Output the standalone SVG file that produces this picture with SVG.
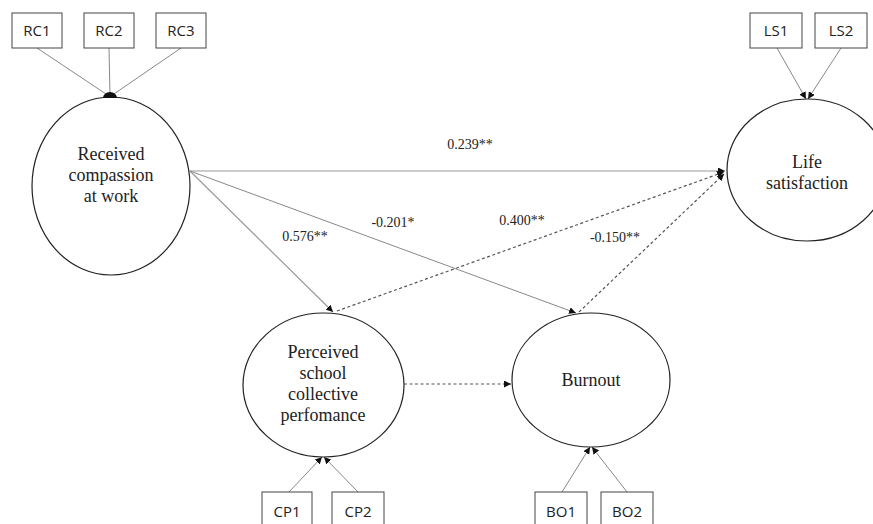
<svg xmlns="http://www.w3.org/2000/svg" width="873" height="524" viewBox="0 0 873 524">
<style>
.box{fill:#fff;stroke:#444;stroke-width:1}
.lat{fill:#fff;stroke:#222;stroke-width:1.2}
.ind{font-family:"Open Sans","Noto Sans",sans-serif;font-size:15px;fill:#222;text-anchor:middle}
.lbl{font-family:"Liberation Serif","Times New Roman",serif;font-size:18px;fill:#222;text-anchor:middle}
.coef{font-family:"Liberation Serif","Times New Roman",serif;font-size:14px;fill:#222;text-anchor:middle}
.ld{stroke:#888;stroke-width:1;fill:none}
.sol{stroke:#999;stroke-width:1.2;fill:none}
.dash{stroke:#555;stroke-width:1.2;fill:none;stroke-dasharray:3,2.5}
</style>
<defs>
<marker id="ah" viewBox="0 0 10 10" refX="10" refY="5" markerWidth="7" markerHeight="7" orient="auto" markerUnits="userSpaceOnUse">
<path d="M0,0 L10,5 L0,10 z" fill="#111"/>
</marker>
</defs>
<g id="connectors">
<line class="ld" x1="37" y1="48" x2="109" y2="96"/>
<line class="ld" x1="109" y1="48" x2="110" y2="96"/>
<line class="ld" x1="181" y1="48" x2="111" y2="96"/>
<line class="ld" x1="777" y1="48" x2="806" y2="99" marker-end="url(#ah)"/>
<line class="ld" x1="841" y1="48" x2="808" y2="99" marker-end="url(#ah)"/>
<line class="ld" x1="289" y1="492" x2="322" y2="457" marker-end="url(#ah)"/>
<line class="ld" x1="358" y1="492" x2="324" y2="457" marker-end="url(#ah)"/>
<line class="ld" x1="562" y1="492" x2="590" y2="447" marker-end="url(#ah)"/>
<line class="ld" x1="627" y1="492" x2="592" y2="447" marker-end="url(#ah)"/>
<line class="sol" x1="190" y1="171" x2="725" y2="171" marker-end="url(#ah)"/>
<line class="sol" x1="190" y1="171" x2="333" y2="312" marker-end="url(#ah)"/>
<line class="ld" x1="190" y1="171" x2="576" y2="313" marker-end="url(#ah)"/>
<line class="dash" x1="337" y1="311" x2="724" y2="172" marker-end="url(#ah)"/>
<line class="dash" x1="579" y1="312" x2="724" y2="174" marker-end="url(#ah)"/>
<line class="dash" x1="404" y1="384" x2="511" y2="384" marker-end="url(#ah)"/>
</g>
<g id="labels">
<text class="coef" x="470" y="149">0.239**</text>
<text class="coef" x="305" y="241">0.576**</text>
<text class="coef" x="393" y="227">-0.201*</text>
<text class="coef" x="522" y="225">0.400**</text>
<text class="coef" x="615" y="242">-0.150**</text>
</g>
<g id="RC1"><rect class="box" x="12" y="13" width="50" height="35"/><text class="ind" x="37" y="36">RC1</text></g>
<g id="RC2"><rect class="box" x="84" y="13" width="50" height="35"/><text class="ind" x="109" y="36">RC2</text></g>
<g id="RC3"><rect class="box" x="156" y="13" width="50" height="35"/><text class="ind" x="181" y="36">RC3</text></g>
<g id="LS1"><rect class="box" x="750" y="13" width="52" height="35"/><text class="ind" x="776" y="36">LS1</text></g>
<g id="LS2"><rect class="box" x="815" y="13" width="52" height="35"/><text class="ind" x="841" y="36">LS2</text></g>
<g id="CP1"><rect class="box" x="262" y="492" width="50" height="40"/><text class="ind" x="287" y="517">CP1</text></g>
<g id="CP2"><rect class="box" x="332" y="492" width="52" height="40"/><text class="ind" x="358" y="517">CP2</text></g>
<g id="BO1"><rect class="box" x="535" y="492" width="52" height="40"/><text class="ind" x="561" y="517">BO1</text></g>
<g id="BO2"><rect class="box" x="601" y="492" width="52" height="40"/><text class="ind" x="627" y="517">BO2</text></g>
<g id="received">
<ellipse class="lat" cx="111" cy="186" rx="79" ry="89"/>
<path d="M103,98 A7,6 0 0 1 117,98 Z" fill="#111"/>
<text class="lbl" x="111" y="160">Received</text>
<text class="lbl" x="111" y="181">compassion</text>
<text class="lbl" x="111" y="202">at work</text>
</g>
<g id="life">
<ellipse class="lat" cx="807" cy="170" rx="80" ry="71"/>
<text class="lbl" x="807" y="168">Life</text>
<text class="lbl" x="807" y="189">satisfaction</text>
</g>
<g id="perceived">
<ellipse class="lat" cx="323.5" cy="385" rx="80.5" ry="72"/>
<text class="lbl" x="323" y="358">Perceived</text>
<text class="lbl" x="323" y="379">school</text>
<text class="lbl" x="323" y="400">collective</text>
<text class="lbl" x="323" y="421">perfomance</text>
</g>
<g id="burnout">
<ellipse class="lat" cx="591" cy="380" rx="79" ry="67"/>
<text class="lbl" x="591" y="386">Burnout</text>
</g>
</svg>
